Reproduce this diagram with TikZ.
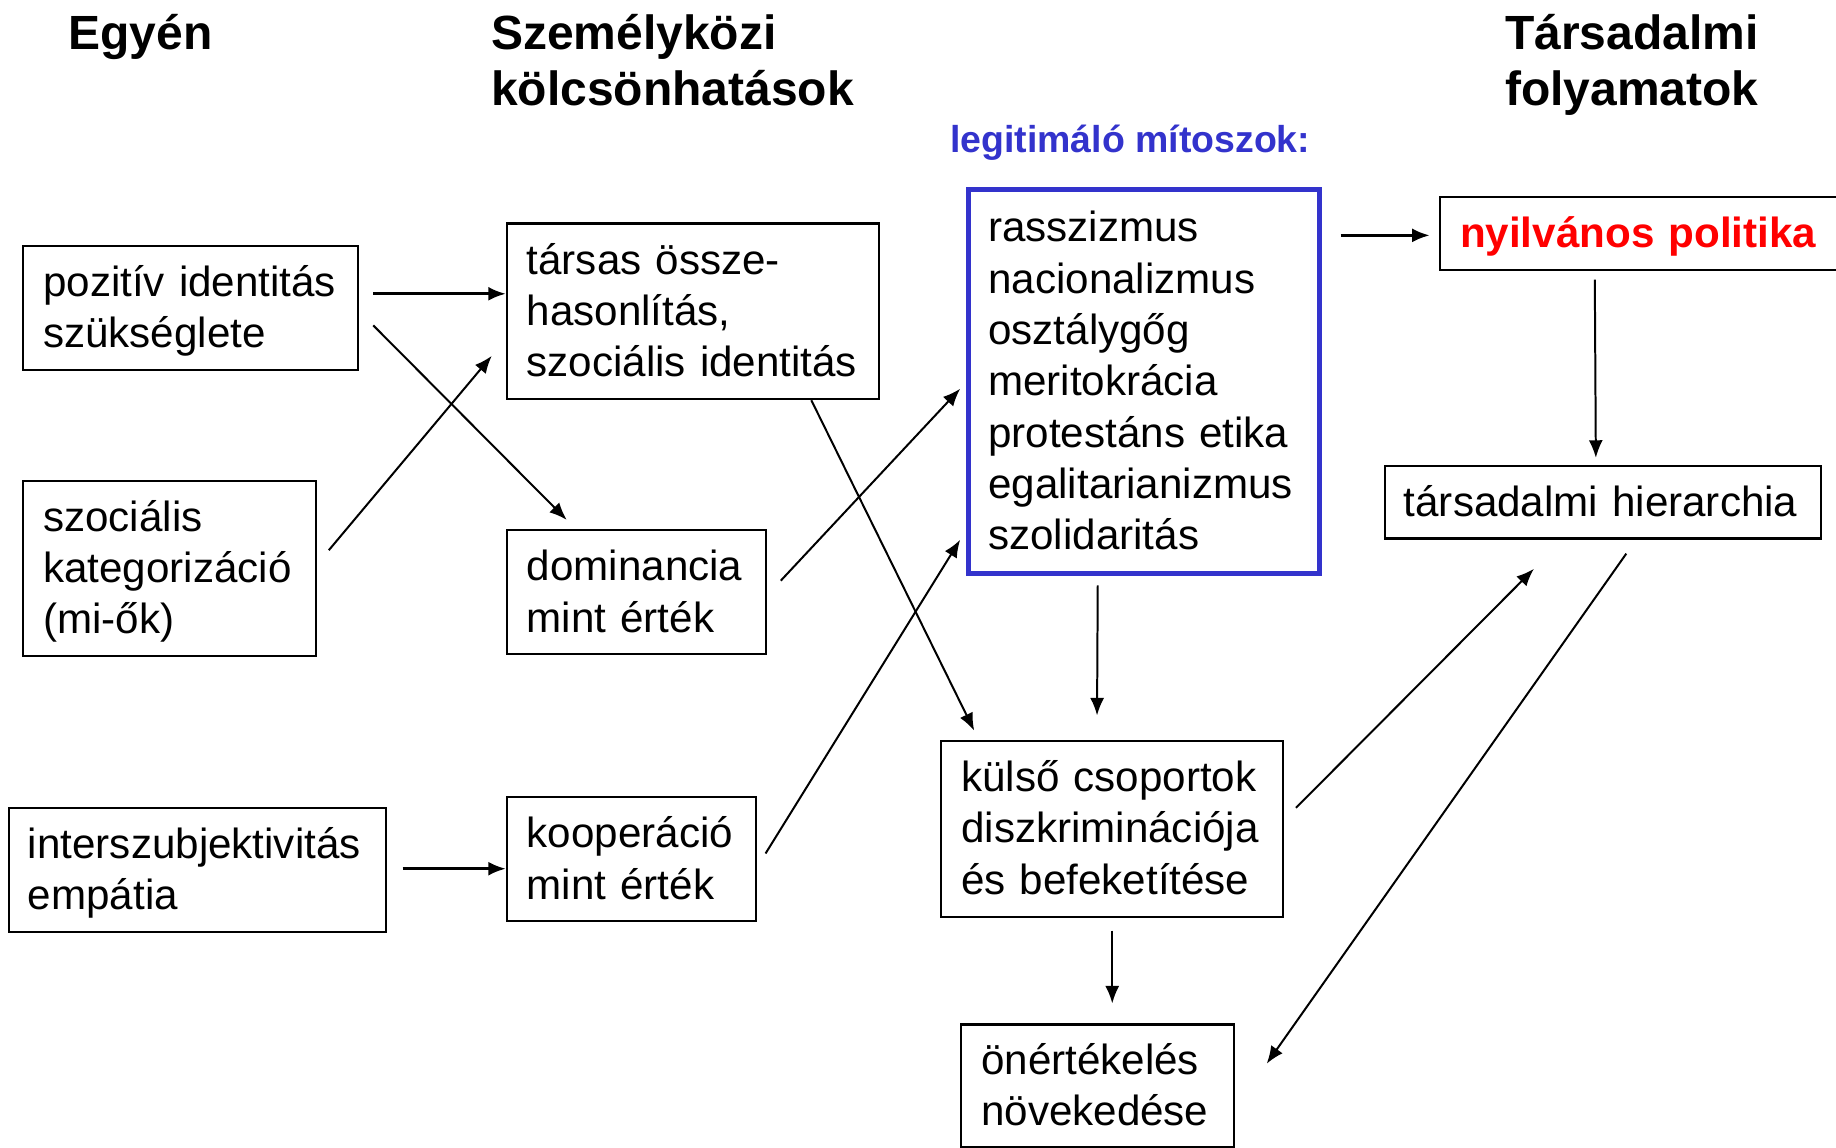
\documentclass[tikz,border=0pt]{standalone}
\usepackage{fontspec}
\setmainfont{Liberation Sans}
\usetikzlibrary{arrows.meta,calc}
\definecolor{myblue}{RGB}{51,51,204}
\definecolor{myred}{RGB}{255,0,0}
\newcommand\bodyfont{\fontsize{18}{21.9}\selectfont}
\newcommand\titlefont{\fontsize{20.5}{24}\selectfont\bfseries}
\newcommand\topstrut{\rule{0pt}{18.6pt}}
\begin{document}
\begin{tikzpicture}[x=0.5pt,y=-0.5pt,
  box/.style={draw, line width=0.9pt, anchor=north west, inner xsep=8.5pt, inner ysep=0pt,
    align=left, font=\bodyfont, execute at begin node=\topstrut, execute at end node=\strut},
  ttl/.style={anchor=base west, inner sep=0pt, font=\titlefont},
  arr/.style={-{Latex[length=7.5pt,width=6pt]}, line width=0.85pt},
  harr/.style={arr, line width=1.2pt}]
\useasboundingbox (0,0) rectangle (1568,980);

% titles
\node[ttl] (t1) at (58,42) {Egyén};
\node[ttl] (t2a) at (419,42) {Személyközi};
\node[ttl] (t2b) at (419,90) {kölcsönhatások};
\node[ttl] (t3a) at (1285,42) {Társadalmi};
\node[ttl] (t3b) at (1285,90) {folyamatok};
\node[ttl, font=\fontsize{16}{19}\selectfont\bfseries, text=myblue] (leg) at (811,130) {legitimáló mítoszok:};

% boxes
\node[box, text width=126pt, minimum height=53pt] (poz) at (19,209) {pozitív identitás\\szükséglete};
\node[box, text width=108pt, minimum height=74.5pt] (szoc) at (19,410) {szociális\\kategorizáció\\(mi-ők)};
\node[box, text width=145pt, minimum height=53pt, inner xsep=8pt] (inter) at (7,689) {interszubjektivitás\\empátia};
\node[box, text width=142pt, minimum height=75pt] (tarsas) at (432,190) {társas össze-\\hasonlítás,\\szociális identitás};
\node[box, text width=93.5pt, minimum height=53pt] (dom) at (432,452) {dominancia\\mint érték};
\node[box, text width=89.5pt, minimum height=53pt] (koop) at (432,680) {kooperáció\\mint érték};
\node[box, draw=myblue, line width=2pt, text width=133pt, minimum height=164pt] (blue) at (825,160)
  {rasszizmus\\nacionalizmus\\osztálygőg\\meritokrácia\\protestáns etika\\egalitarianizmus\\szolidaritás};
\node[box, text width=129pt, minimum height=75pt] (kulso) at (803,632) {külső csoportok\\diszkriminációja\\és befeketítése};
\node[box, text width=99.5pt, minimum height=52.5pt] (oner) at (820,874) {önértékelés\\növekedése};
\node[box, text width=158pt, minimum height=31.5pt, font=\bodyfont\bfseries, text=myred] (nyil) at (1229,167) {nyilvános politika};
\node[box, text width=170pt, minimum height=31pt, inner xsep=8pt] (hier) at (1182,397) {társadalmi hierarchia};

% connectors
\draw[harr] ([shift={(12,-12)}]poz.east) coordinate (pa) -- (tarsas.west |- pa);
\draw[arr] ([shift={(12,15)}]poz.east) -- ([shift={(52,-8)}]dom.north west);
\draw[arr] ([shift={(10,-15.5)}]szoc.east) -- ([shift={(-12,38)}]tarsas.west);
\draw[harr] ([shift={(13,-1)}]inter.east) coordinate (ia) -- (koop.west |- ia);
\draw[arr] ([shift={(101,0)}]tarsas.south) -- ([shift={(29,-8)}]kulso.north west);
\draw[arr] ([shift={(12,-10)}]dom.east) -- ([shift={(-5,6)}]blue.west);
\draw[arr] ([shift={(7,-5)}]koop.east) -- ([shift={(-5,-31)}]blue.south west);
\draw[arr] ([shift={(-39.5,8)}]blue.south) -- ([shift={(-13,-21)}]kulso.north);
\draw[harr] ([shift={(16,-125)}]blue.east) coordinate (ba) -- ([xshift=-4pt]nyil.west |- ba);
\draw[arr] ([shift={(133,7)}]nyil.south west) -- ([shift={(-6,-6)}]hier.north);
\draw[arr] ([shift={(10,-18)}]kulso.east) -- ([shift={(128,25)}]hier.south west);
\draw[arr] ([shift={(20,12)}]hier.south) -- ([shift={(27,-19)}]oner.east);
\draw[arr] ([shift={(0,11)}]kulso.south) -- ([shift={(12.5,-17)}]oner.north);
\end{tikzpicture}
\end{document}
